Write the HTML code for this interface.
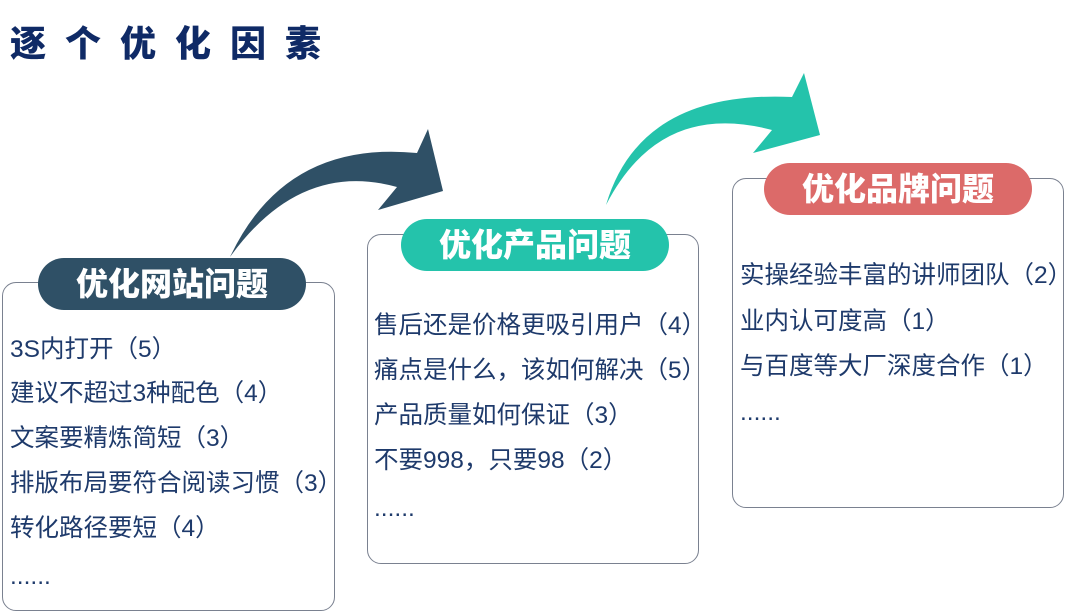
<!DOCTYPE html>
<html><head><meta charset="utf-8"><style>
body{margin:0;width:1080px;height:614px;background:#fff;position:relative;overflow:hidden;font-family:"Liberation Sans","Noto Sans CJK SC",sans-serif;}
.t{position:absolute;left:10px;top:22px;font-size:36px;font-weight:900;color:#0f2a66;letter-spacing:19px;line-height:44px;white-space:nowrap}
.box{position:absolute;border:1.5px solid #7a8190;border-radius:14px;box-sizing:border-box}
.pill{position:absolute;border-radius:26px;color:#fff;font-weight:900;font-size:32px;text-align:center;line-height:52px;white-space:nowrap}
.l{position:absolute;font-size:24.5px;color:#1e3a6b;white-space:nowrap;line-height:30px}
</style></head><body>
<div class="t">逐个优化因素</div>
<svg width="1080" height="614" style="position:absolute;left:0;top:0">
<path d="M230,257 Q285,140 417,153 L428,129 L443,191 L378,210 L397,187 Q300,160 230,257 Z" fill="#2f5066"/>
<path d="M606,205 Q640,90 792,97 L804,73 L820,135 L753,153 L772,130 Q660,100 606,205 Z" fill="#24c3ab"/>
</svg>
<div class="box" style="left:2px;top:282px;width:333px;height:329px"></div>
<div class="pill" style="left:38px;top:258px;width:268px;background:#2f5066">优化网站问题</div>
<div class="l" style="left:10px;top:335px">3S内打开（5）</div>
<div class="l" style="left:10px;top:379px">建议不超过3种配色（4）</div>
<div class="l" style="left:10px;top:424px">文案要精炼简短（3）</div>
<div class="l" style="left:10px;top:469px">排版布局要符合阅读习惯（3）</div>
<div class="l" style="left:10px;top:514px">转化路径要短（4）</div>
<div class="l" style="left:10px;top:562px">......</div>

<div class="box" style="left:367px;top:234px;width:332px;height:330px"></div>
<div class="pill" style="left:401px;top:219px;width:268px;background:#24c3ab">优化产品问题</div>
<div class="l" style="left:374px;top:311px">售后还是价格更吸引用户（4）</div>
<div class="l" style="left:374px;top:356px">痛点是什么，该如何解决（5）</div>
<div class="l" style="left:374px;top:401px">产品质量如何保证（3）</div>
<div class="l" style="left:374px;top:446px">不要998，只要98（2）</div>
<div class="l" style="left:374px;top:494px">......</div>

<div class="box" style="left:732px;top:178px;width:332px;height:330px"></div>
<div class="pill" style="left:764px;top:163px;width:268px;background:#dc6a69">优化品牌问题</div>
<div class="l" style="left:740px;top:261px">实操经验丰富的讲师团队（2）</div>
<div class="l" style="left:740px;top:307px">业内认可度高（1）</div>
<div class="l" style="left:740px;top:352px">与百度等大厂深度合作（1）</div>
<div class="l" style="left:740px;top:398px">......</div>
</body></html>
